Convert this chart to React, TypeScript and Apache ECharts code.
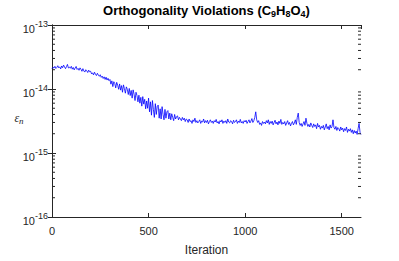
import React, { useEffect, useRef } from "react";
import * as echarts from "echarts";

const TITLE = "Orthogonality Violations (C{sub|9}H{sub|8}O{sub|4})";
const X_LABEL = "Iteration";
const Y_LABEL = "ε{sub|n}";
const X_TICKS = [0, 500, 1000, 1500];
const Y_TICKS = [1e-16, 1e-15, 1e-14, 1e-13];
const X_MAX = 1600;
const ITER_STEP = 5;
const UNIT = 1e-15;
// epsilon_n in units of 1e-15, one reading every ITER_STEP iterations (0..1600)
const VIOLATION = [
  20.8, 21.9, 21.2, 22.6, 20.9, 21.7, 23.1, 21.4, 22.2, 20.6,
  22.9, 21.5, 23.6, 22.1, 20.8, 22.4, 24.2, 21.3, 22.0, 21.1,
  22.6, 20.4, 21.7, 19.9, 21.3, 22.5, 20.2, 21.0, 19.6, 21.4,
  20.3, 18.9, 20.8, 19.1, 18.4, 20.0, 19.3, 18.1, 19.7, 18.6,
  18.9, 17.2, 17.9, 16.6, 18.3, 17.0, 16.2, 17.6, 16.5, 15.8,
  16.7, 15.2, 15.9, 14.6, 15.5, 14.1, 15.3, 13.8, 14.7, 13.5,
  14.1, 11.9, 13.4, 10.9, 13.0, 12.2, 10.4, 12.7, 11.5, 9.9,
  12.0, 9.6, 11.3, 8.9, 11.6, 10.1, 8.6, 10.8, 9.9, 8.2,
  10.2, 7.9, 9.5, 7.2, 9.7, 8.3, 6.6, 8.9, 7.9, 6.3,
  8.0, 6.0, 7.4, 5.4, 7.6, 5.8, 6.9, 4.9, 6.5, 5.0,
  7.2, 4.4, 6.3, 3.9, 6.6, 4.8, 3.6, 5.9, 4.0, 5.4,
  5.6, 3.5, 4.9, 3.4, 5.3, 4.0, 3.3, 4.8, 3.5, 4.4,
  4.6, 3.4, 4.2, 3.3, 4.1, 3.6, 3.2, 4.0, 3.4, 3.7,
  3.8, 3.3, 3.6, 3.4, 3.2, 3.6, 3.3, 3.5, 3.1, 3.4,
  3.3, 3.0, 3.4, 3.1, 3.2, 2.9, 3.3, 3.1, 3.5, 3.0,
  3.2, 2.95, 3.1, 3.3, 2.9, 3.15, 3.05, 3.4, 2.95, 3.2,
  3.0, 3.25, 2.85, 3.1, 3.3, 3.0, 3.15, 2.9, 3.2, 3.05,
  3.35, 2.95, 3.1, 2.85, 3.2, 3.05, 3.3, 2.9, 3.15, 3.0,
  3.2, 2.9, 3.4, 3.05, 2.95, 3.2, 3.1, 2.85, 3.25, 3.0,
  3.1, 3.3, 2.9, 3.15, 3.0, 3.35, 2.95, 3.1, 2.9, 3.2,
  3.05, 3.25, 2.9, 3.1, 3.3, 2.95, 3.15, 3.45, 3.0, 3.2,
  3.6, 4.4, 3.3, 3.0, 3.2, 2.8, 2.95, 2.7, 3.1, 2.9,
  3.05, 2.85, 3.2, 2.95, 3.3, 2.8, 3.1, 2.9, 3.15, 2.75,
  3.0, 3.25, 2.85, 3.05, 2.75, 3.15, 2.9, 3.35, 2.8, 3.0,
  2.85, 3.1, 2.7, 2.95, 3.2, 2.8, 3.0, 2.65, 2.9, 3.1,
  2.75, 2.95, 3.3, 2.8, 3.6, 4.2, 3.0, 2.7, 2.9, 2.6,
  2.85, 3.1, 2.7, 3.5, 2.9, 2.6, 2.8, 2.55, 2.95, 2.7,
  2.5, 2.85, 2.6, 2.75, 2.4, 2.9, 2.55, 2.7, 2.35, 2.6,
  2.45, 2.7, 2.3, 2.55, 2.85, 2.4, 2.6, 2.3, 2.75, 2.45,
  2.6, 3.3, 2.5, 2.35, 2.6, 2.25, 2.5, 2.4, 2.2, 2.55,
  2.3, 2.45, 2.15, 2.4, 2.25, 2.55, 2.1, 2.35, 2.2, 2.4,
  2.1, 2.3, 2.0, 2.25, 2.05, 2.2, 1.95, 2.4, 2.9, 2.1,
  1.95,
];
const MINOR_MULTIPLIERS = [2, 3, 4, 5, 6, 7, 8, 9];

const AXIS_COLOR = "#262626";
const FONT = "'Liberation Sans', Arial, Helvetica, sans-serif";

export default function App() {
  const ref = useRef<HTMLDivElement>(null);
  useEffect(() => {
    document.body.style.margin = "0";
    if (!ref.current) return;
    const chart = echarts.init(ref.current, null, { renderer: "svg" });
    const lineData = VIOLATION.map((v, i) => [i * ITER_STEP, v * UNIT]);
    const minorValues: number[][] = [];
    Y_TICKS.slice(0, -1).forEach((d) =>
      MINOR_MULTIPLIERS.forEach((m) => minorValues.push([800, m * d]))
    );
    const yLabelFmt = (v: number) => {
      const e = Math.round(Math.log10(v));
      return `{base|10}{sup|${e}}`;
    };
    const xLabelFmt = (v: number) => (X_TICKS.includes(v) ? String(v) : "");
    const common = {
      axisLine: { show: true, lineStyle: { color: AXIS_COLOR, width: 1 } },
      splitLine: { show: false },
    };
    chart.setOption({
      animation: false,
      backgroundColor: "#ffffff",
      grid: { left: 52, right: 38, top: 25, bottom: 33, containLabel: false },
      xAxis: [
        {
          type: "value",
          min: 0,
          max: X_MAX,
          interval: 500,
          ...common,
          axisTick: {
            inside: true,
            length: 4,
            lineStyle: { color: AXIS_COLOR },
          },
          axisLabel: {
            formatter: xLabelFmt,
            showMaxLabel: false,
            margin: 8,
            fontSize: 11,
            color: AXIS_COLOR,
            fontFamily: FONT,
          },
          name: X_LABEL,
          nameLocation: "middle",
          nameGap: 27,
          nameTextStyle: { fontSize: 12, color: AXIS_COLOR, fontFamily: FONT },
        },
        {
          type: "value",
          position: "top",
          min: 0,
          max: X_MAX,
          interval: 500,
          ...common,
          axisTick: {
            inside: true,
            length: 4,
            lineStyle: { color: AXIS_COLOR },
          },
          axisLabel: { show: false },
        },
      ],
      yAxis: [
        {
          type: "log",
          logBase: 10,
          min: 1e-16,
          max: 1e-13,
          ...common,
          axisTick: {
            inside: true,
            length: 4,
            lineStyle: { color: AXIS_COLOR },
          },
          axisLabel: {
            formatter: yLabelFmt,
            margin: 4,
            color: AXIS_COLOR,
            fontFamily: FONT,
            rich: {
              base: {
                fontSize: 11,
                color: AXIS_COLOR,
                fontFamily: FONT,
                padding: [7, 0, 0, 0],
              },
              sup: {
                fontSize: 9,
                color: AXIS_COLOR,
                fontFamily: FONT,
                padding: [0, 0, 2, 0],
              },
            },
          },
        },
        {
          type: "log",
          logBase: 10,
          position: "right",
          min: 1e-16,
          max: 1e-13,
          ...common,
          axisTick: {
            inside: true,
            length: 4,
            lineStyle: { color: AXIS_COLOR },
          },
          axisLabel: { show: false },
        },
      ],
      graphic: [
        {
          type: "text",
          x: 206.5,
          y: 10,
          style: {
            text: TITLE,
            align: "center",
            verticalAlign: "middle",
            fontSize: 13,
            fontWeight: "bold",
            fontFamily: FONT,
            fill: "#000000",
            rich: {
              sub: {
                fontSize: 9,
                fontWeight: "bold",
                fontFamily: FONT,
                fill: "#000000",
                padding: [7, 0, 0, 0],
              },
            },
          },
        },
        {
          type: "text",
          x: 19,
          y: 118,
          style: {
            text: Y_LABEL,
            align: "center",
            verticalAlign: "middle",
            fontSize: 12,
            fontStyle: "italic",
            fontFamily: "'Liberation Serif', 'DejaVu Serif', serif",
            fill: AXIS_COLOR,
            rich: {
              sub: {
                fontSize: 9,
                fontStyle: "italic",
                fontFamily: "'Liberation Serif', 'DejaVu Serif', serif",
                fill: AXIS_COLOR,
                padding: [6, 0, 0, 0],
              },
            },
          },
        },
      ],
      series: [
        {
          type: "line",
          xAxisIndex: 0,
          yAxisIndex: 0,
          data: lineData,
          showSymbol: false,
          symbol: "none",
          lineStyle: { color: "#0000ff", width: 0.8 },
          silent: true,
        },
        {
          type: "custom",
          xAxisIndex: 0,
          yAxisIndex: 0,
          silent: true,
          clip: false,
          z: 10,
          data: minorValues,
          encode: { x: 0, y: 1 },
          renderItem: (params: any, api: any) => {
            const pt = api.coord([api.value(0), api.value(1)]);
            const cs = params.coordSys;
            const style = { stroke: AXIS_COLOR, lineWidth: 1 };
            return {
              type: "group",
              children: [
                {
                  type: "line",
                  shape: { x1: cs.x, y1: pt[1], x2: cs.x + 3, y2: pt[1] },
                  style,
                },
                {
                  type: "line",
                  shape: {
                    x1: cs.x + cs.width,
                    y1: pt[1],
                    x2: cs.x + cs.width - 3,
                    y2: pt[1],
                  },
                  style,
                },
              ],
            };
          },
        },
      ],
    });
    return () => chart.dispose();
  }, []);
  return <div ref={ref} style={{ width: 399, height: 261 }} />;
}
